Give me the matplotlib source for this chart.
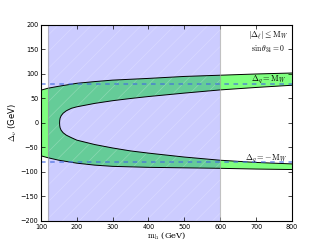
import numpy as np
import matplotlib
matplotlib.use("Agg")
import matplotlib.pyplot as plt

plt.rcParams['mathtext.fontset'] = 'cm'
plt.rcParams['hatch.linewidth'] = 0.5

mh_outer = [100, 120, 150, 200, 250, 300, 400, 500, 600, 700, 800]
upper_outer = [67, 71, 75, 81, 84.5, 87.5, 91, 95, 97.5, 100, 102]
lower_outer = [-67, -71, -76, -82, -86, -88.5, -90.5, -91.5, -92.5, -94, -95]

mh_inner_up = [800, 700, 600, 500, 400, 350, 300, 250, 200, 185, 171, 162, 156.5, 153.5, 152.3, 152]
upper_inner = [77, 72.5, 67.5, 61, 54, 50, 45.5, 40, 33, 30, 25, 20, 15, 10, 5, 0]
mh_inner_lo = [152.3, 153.5, 156.5, 162, 171, 185, 200, 250, 300, 350, 400, 500, 600, 700, 800]
lower_inner = [-5, -10, -15, -20, -25, -30, -35, -44, -51, -57, -61.5, -69.5, -76, -80.5, -83.5]

excl_lo, excl_hi = 120, 600
MW = 80.4

fig = plt.figure(figsize=(3.25, 2.45), dpi=100)
ax = fig.add_axes([0.126, 0.098, 0.772, 0.800])

xs = mh_outer + mh_inner_up + mh_inner_lo + mh_outer[::-1]
ys = upper_outer + upper_inner + lower_inner + lower_outer[::-1]
ax.fill(xs, ys, color='lime', alpha=0.5, lw=0)
ax.plot(mh_outer, upper_outer, 'k-', lw=0.7)
ax.plot(mh_outer, lower_outer, 'k-', lw=0.7)
ax.plot(mh_inner_up + mh_inner_lo, upper_inner + lower_inner, 'k-', lw=0.7)

ax.axvspan(excl_lo, excl_hi, facecolor=(0, 0, 1, 0.2), edgecolor=(1, 1, 1, 0.25),
           hatch='//', lw=0)
for xv in (excl_lo, excl_hi):
    ax.axvline(xv, color='0.6', alpha=0.6, lw=0.8)

ax.axhline(MW, color='royalblue', alpha=0.75, ls='--', lw=1.1, dashes=(3, 3))
ax.axhline(-MW, color='royalblue', alpha=0.75, ls='--', lw=1.1, dashes=(3, 3))

ax.text(790, 180, r'$|\Delta_\ell|\leq\mathrm{M}_W$', ha='right', va='center', fontsize=6)
ax.text(780, 150, r'$\sin\theta_{34}=0$', ha='right', va='center', fontsize=5.5)
ax.text(787, 87, r'$\Delta_q=\mathrm{M}_W$', ha='right', va='center', fontsize=6)
ax.text(787, -74, r'$\Delta_q=-\mathrm{M}_W$', ha='right', va='center', fontsize=6)

ax.set_xlim(100, 800)
ax.set_ylim(-200, 200)
ax.set_xticks(range(100, 801, 100))
ax.set_yticks(range(-200, 201, 50))
ax.tick_params(direction='in', top=True, right=True, labelsize=4.7, length=3, width=0.5, pad=2)
for s in ax.spines.values():
    s.set_linewidth(0.8)
ax.set_xlabel(r'$\mathrm{m_h}$ (GeV)', fontsize=6, family='serif', labelpad=0)
ax.set_ylabel(r'$\Delta_\nu$ (GeV)', fontsize=6, labelpad=1)

fig.savefig('out.png', dpi=100)
